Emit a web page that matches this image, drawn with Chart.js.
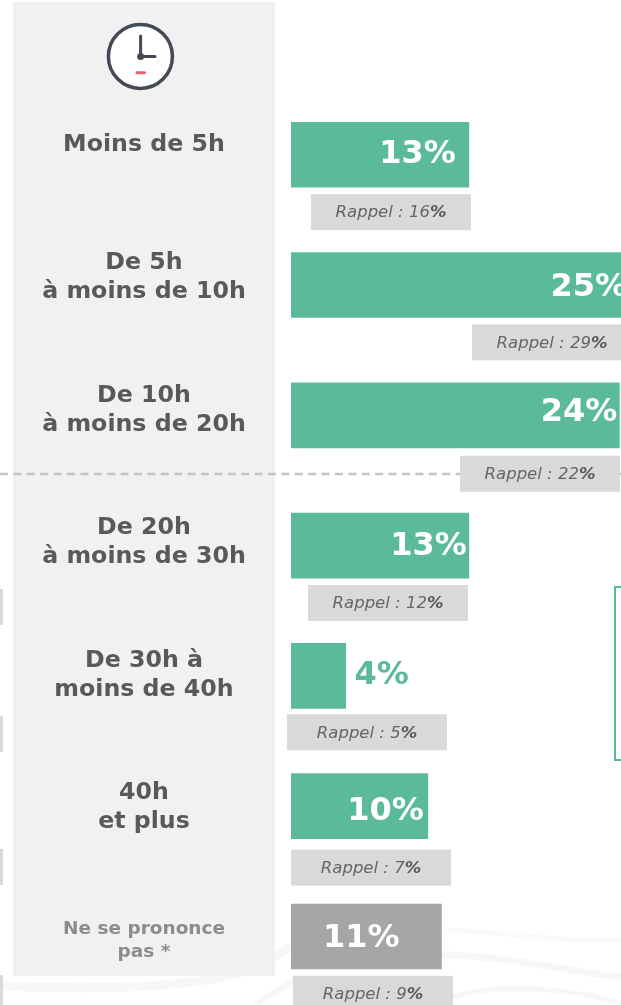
<!DOCTYPE html>
<html>
<head>
<meta charset="utf-8">
<style>
    html, body { margin: 0; padding: 0; background: #fff; overflow: hidden; }
    #chart { display: block; }
</style>
<script src="https://cdn.jsdelivr.net/npm/chart.js@4"></script>
</head>
<body>
<div style="width:621px;height:1005px"><canvas id="chart"></canvas></div>
<script>
const categories = ['Moins de 5h', 'De 5h à moins de 10h', 'De 10h à moins de 20h', 'De 20h à moins de 30h', 'De 30h à moins de 40h', '40h et plus', 'Ne se prononce pas *'];
const labelLines = [['Moins de 5h'], ['De 5h', 'à moins de 10h'], ['De 10h', 'à moins de 20h'], ['De 20h', 'à moins de 30h'], ['De 30h à', 'moins de 40h'], ['40h', 'et plus'], ['Ne se prononce', 'pas *']];
const values = [13, 25, 24, 13, 4, 10, 11];
const rappel = [16, 29, 22, 12, 5, 7, 9];

const GREEN = '#5bbb99';
const GREY = '#a6a6a6';
const TEXT = '#595959';

// petits décalages à la main, la maquette d'origine n'est pas alignée
const labelCenterY = [145, 277.5, 410.5, 542.5, 675.5, 807.5, 940.5];
const valueDx = [-13, -6, -2, -2, 63, -4, -42];
const valueDy = [0, 3, -3, 1, 0, 6, 2];
const rappelLeft = [311, 472, 460, 308, 287, 291, 293];
const rappelDy = [39.4, 39.4, 40.4, 39.4, 38.4, 43.4, 39.4];

function drawClock(ctx) {
    ctx.save();
    ctx.beginPath();
    ctx.arc(140.4, 56.4, 32, 0, Math.PI * 2);
    ctx.fillStyle = '#fff';
    ctx.fill();
    ctx.lineWidth = 3.5;
    ctx.strokeStyle = '#434a54';
    ctx.stroke();
    ctx.lineCap = 'round';
    ctx.lineWidth = 3;
    ctx.beginPath();
    ctx.moveTo(140.6, 36);
    ctx.lineTo(140.6, 56.5);
    ctx.lineTo(155, 56.5);
    ctx.stroke();
    ctx.beginPath();
    ctx.arc(140.6, 56.5, 3.5, 0, Math.PI * 2);
    ctx.fillStyle = '#434a54';
    ctx.fill();
    ctx.strokeStyle = '#f25c6e';
    ctx.beginPath();
    ctx.moveTo(137, 72.8);
    ctx.lineTo(144.5, 72.8);
    ctx.stroke();
    ctx.restore();
}

function drawWaves(ctx) {
    ctx.save();
    ctx.strokeStyle = '#f7f7f7';
    ctx.lineWidth = 9;
    ctx.beginPath();
    ctx.moveTo(0, 986);
    ctx.bezierCurveTo(110, 990, 200, 988, 255, 968);
    ctx.bezierCurveTo(270, 960, 285, 950, 300, 942);
    ctx.stroke();
    ctx.lineWidth = 6;
    ctx.beginPath();
    ctx.moveTo(255, 1005);
    ctx.bezierCurveTo(270, 995, 285, 985, 300, 978);
    ctx.stroke();
    ctx.lineWidth = 7;
    ctx.beginPath();
    ctx.moveTo(442, 955);
    ctx.bezierCurveTo(500, 955, 560, 970, 621, 977);
    ctx.stroke();
    ctx.strokeStyle = '#fafafa';
    ctx.lineWidth = 5;
    ctx.beginPath();
    ctx.moveTo(445, 930);
    ctx.bezierCurveTo(500, 932, 560, 942, 621, 940);
    ctx.stroke();
    ctx.strokeStyle = '#f7f7f7';
    ctx.lineWidth = 5;
    ctx.beginPath();
    ctx.moveTo(453, 997);
    ctx.bezierCurveTo(490, 985, 560, 985, 621, 1003);
    ctx.stroke();
    ctx.restore();
}

const decorPlugin = {
    id: 'decor',
    beforeDatasetsDraw(chart) {
        const ctx = chart.ctx;
        drawWaves(ctx);

        ctx.fillStyle = '#f1f1f1';
        ctx.fillRect(13, 2, 262, 974);
        drawClock(ctx);

        // pointillés, ils passent sur le bandeau
        ctx.save();
        ctx.strokeStyle = '#c4c4c4';
        ctx.lineWidth = 2.5;
        ctx.setLineDash([8, 5.4]);
        ctx.beginPath();
        ctx.moveTo(0, 474);
        ctx.lineTo(621, 474);
        ctx.stroke();
        ctx.restore();

        // bords coupés à gauche et cadre vert à droite
        ctx.fillStyle = '#d9d9d9';
        ctx.fillRect(0, 589, 3, 36);
        ctx.fillRect(0, 716, 3, 36);
        ctx.fillRect(0, 849, 3, 36);
        ctx.fillRect(0, 975, 3, 30);
        ctx.strokeStyle = GREEN;
        ctx.lineWidth = 2;
        ctx.strokeRect(615, 587, 20, 173);

        ctx.textAlign = 'center';
        ctx.textBaseline = 'middle';
        labelLines.forEach((lines, i) => {
            const last = i === labelLines.length - 1;
            const gap = last ? 23 : 29;
            ctx.font = 'bold ' + (last ? 18.5 : 23.7) + 'px "DejaVu Sans"';
            ctx.fillStyle = last ? '#8c8c8c' : TEXT;
            lines.forEach((line, k) => {
                ctx.fillText(line, 144, labelCenterY[i] + (k - (lines.length - 1) / 2) * gap);
            });
        });
    },
    afterDatasetsDraw(chart) {
        const ctx = chart.ctx;
        const bars = chart.getDatasetMeta(0).data;
        bars.forEach((bar, i) => {
            // valeur
            ctx.save();
            ctx.font = 'bold 32px "DejaVu Sans"';
            ctx.textBaseline = 'middle';
            ctx.textAlign = 'right';
            ctx.fillStyle = values[i] < 5 ? GREEN : '#fff';
            ctx.fillText(values[i] + '%', bar.x + valueDx[i], bar.y + valueDy[i]);

            // rappel
            const top = bar.y + rappelDy[i];
            ctx.fillStyle = '#d9d9d9';
            ctx.fillRect(rappelLeft[i], top, 160, 36);
            const head = 'Rappel : ' + rappel[i];
            ctx.font = 'italic 16.5px "DejaVu Sans"';
            const headW = ctx.measureText(head).width;
            ctx.font = 'italic bold 16.5px "DejaVu Sans"';
            const pctW = ctx.measureText('%').width;
            const x = rappelLeft[i] + 80 - (headW + pctW) / 2;
            ctx.textAlign = 'left';
            ctx.fillStyle = '#666';
            ctx.font = 'italic 16.5px "DejaVu Sans"';
            ctx.fillText(head, x, top + 19);
            ctx.fillStyle = TEXT;
            ctx.font = 'italic bold 16.5px "DejaVu Sans"';
            ctx.fillText('%', x + headW, top + 19);
            ctx.restore();
        });
    }
};

new Chart(document.getElementById('chart'), {
    type: 'bar',
    data: {
        labels: categories,
        datasets: [{
            data: values,
            backgroundColor: values.map((v, i) => i === values.length - 1 ? GREY : GREEN),
            barThickness: 65
        }]
    },
    options: {
        indexAxis: 'y',
        responsive: true,
        maintainAspectRatio: false,
        animation: false,
        events: [],
        layout: { padding: { left: 291, top: 89.6, right: 0, bottom: 3.4 } },
        plugins: { legend: { display: false }, tooltip: { enabled: false } },
        scales: {
            x: { display: false, min: 0, max: 24.12 },
            y: { display: false }
        }
    },
    plugins: [decorPlugin]
});
</script>
</body>
</html>
